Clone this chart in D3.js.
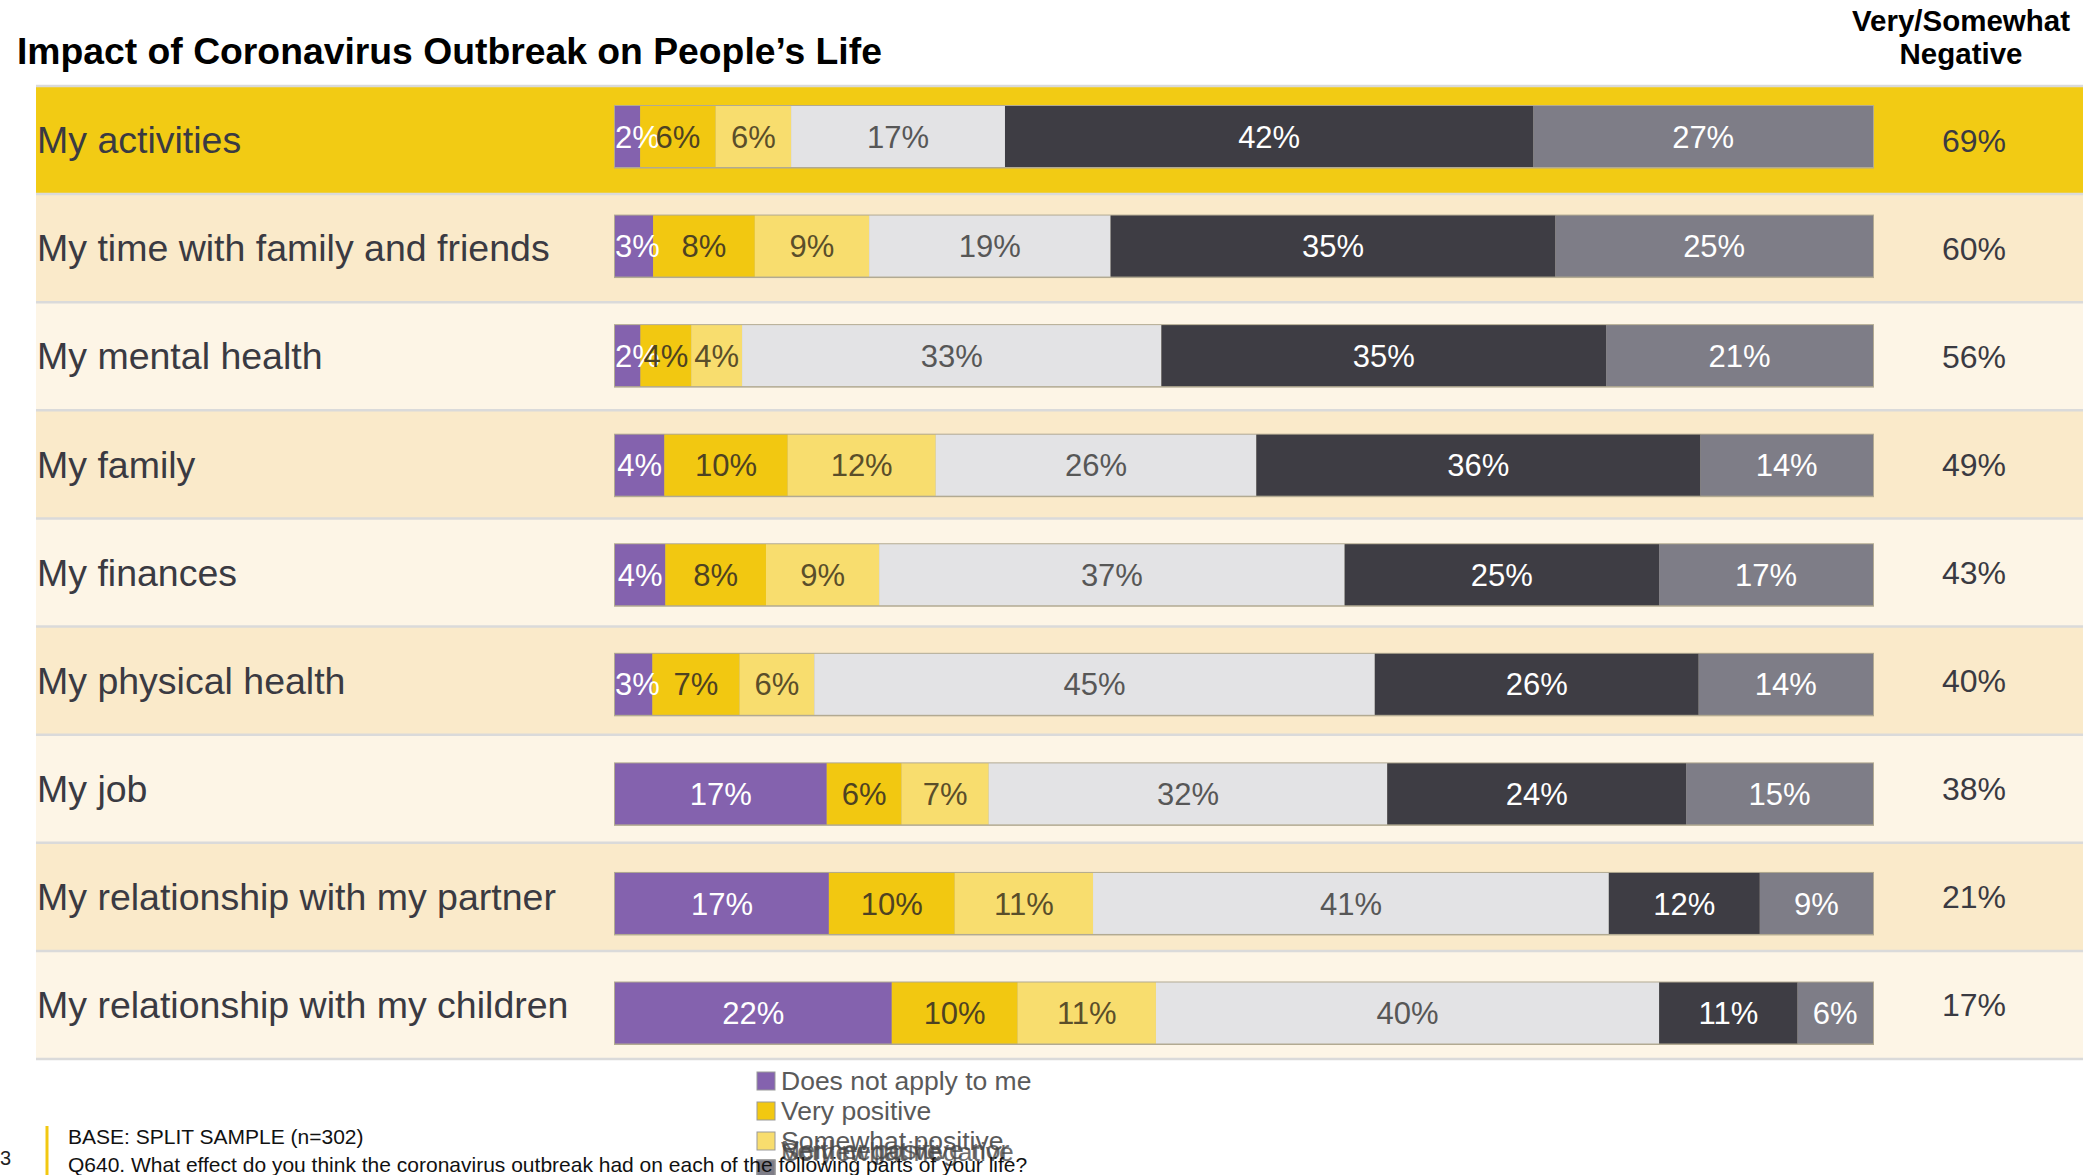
<!DOCTYPE html>
<html>
<head>
<meta charset="utf-8">
<script src="https://cdn.jsdelivr.net/npm/d3@7"></script>
<style>
  html, body { margin: 0; padding: 0; background: #ffffff; overflow: hidden; }
  svg { display: block; font-family: "Liberation Sans", Arial, sans-serif; }
</style>
</head>
<body>
<svg id="chart" width="2083" height="1175"></svg>
<script>
// ---------- data ----------
const categories = [
  "My activities",
  "My time with family and friends",
  "My mental health",
  "My family",
  "My finances",
  "My physical health",
  "My job",
  "My relationship with my partner",
  "My relationship with my children"
];
const seriesNames = [
  "Does not apply to me",
  "Very positive",
  "Somewhat positive",
  "Neither positive nor negative",
  "Very negative",
  "Somewhat negative"
];
const doesNotApply = [2, 3, 2, 4, 4, 3, 17, 17, 22];
const veryPositive = [6, 8, 4, 10, 8, 7, 6, 10, 10];
const somewhatPositive = [6, 9, 4, 12, 9, 6, 7, 11, 11];
const neitherPosNeg = [17, 19, 33, 26, 37, 45, 32, 41, 40];
const veryNegative = [42, 35, 35, 36, 25, 26, 24, 12, 11];
const somewhatNegative = [27, 25, 21, 14, 17, 14, 15, 9, 6];
const netNegative = [69, 60, 56, 49, 43, 40, 38, 21, 17];

const titleText = "Impact of Coronavirus Outbreak on People\u2019s Life";
const netHeader = ["Very/Somewhat", "Negative"];
const baseText = "BASE: SPLIT SAMPLE (n=302)";
const questionText = "Q640. What effect do you think the coronavirus outbreak had on each of the following parts of your life?";
const pageNumber = "3";

// ---------- styles ----------
const segColors = ["#8462AE", "#F2C811", "#F8DD6E", "#E3E3E5", "#3E3D44", "#7E7D87"];
const segText = ["#FFFFFF", "#4E4222", "#5A4E2A", "#575757", "#FFFFFF", "#FFFFFF"];
const bandColors = i => i === 0 ? "#F2CB14" : (i % 2 === 1 ? "#FAEACA" : "#FDF5E6");

const table = categories.map((c, i) => ({
  category: c,
  [seriesNames[0]]: doesNotApply[i],
  [seriesNames[1]]: veryPositive[i],
  [seriesNames[2]]: somewhatPositive[i],
  [seriesNames[3]]: neitherPosNeg[i],
  [seriesNames[4]]: veryNegative[i],
  [seriesNames[5]]: somewhatNegative[i],
  net: netNegative[i]
}));

const svg = d3.select("#chart");

// scales
const rowBand = d3.scaleBand().domain(categories).range([86, 1059]).padding(0);
const barCenter = d3.scalePoint().domain(categories).range([136.5, 1013]);
const barH = 61;
const x = d3.scaleLinear().domain([0, 1]).range([615, 1873]);

// ---------- title ----------
svg.append("text")
  .attr("x", 17).attr("y", 64)
  .attr("font-size", 37.3).attr("font-weight", "bold").attr("fill", "#000")
  .text(titleText);

svg.append("g").selectAll("text").data(netHeader).join("text")
  .attr("x", 1961).attr("y", (d, i) => 31 + i * 33)
  .attr("text-anchor", "middle")
  .attr("font-size", 29.5).attr("font-weight", "bold").attr("fill", "#000")
  .text(d => d);

// ---------- row bands ----------
const bands = svg.append("g");
bands.selectAll("rect").data(categories).join("rect")
  .attr("x", 36).attr("y", d => rowBand(d))
  .attr("width", 2083 - 36).attr("height", rowBand.bandwidth())
  .attr("fill", (d, i) => bandColors(i));
bands.selectAll("line").data(d3.range(categories.length + 1)).join("line")
  .attr("x1", 36).attr("x2", 2083)
  .attr("y1", i => i < categories.length ? rowBand(categories[i]) : rowBand(categories[categories.length-1]) + rowBand.bandwidth())
  .attr("y2", i => i < categories.length ? rowBand(categories[i]) : rowBand(categories[categories.length-1]) + rowBand.bandwidth())
  .attr("stroke", "#DADADA").attr("stroke-width", 2.5);

// row labels
svg.append("g").selectAll("text").data(categories).join("text")
  .attr("x", 37)
  .attr("y", d => rowBand(d) + rowBand.bandwidth() / 2)
  .attr("dy", "0.35em")
  .attr("font-size", 37.5).attr("fill", "#3A3A42")
  .text(d => d);

// ---------- stacked bars ----------
const stack = d3.stack().keys(seriesNames).offset(d3.stackOffsetExpand);
const series = stack(table);

const barsG = svg.append("g");
barsG.selectAll("rect.outline").data(categories).join("rect")
  .attr("class", "outline")
  .attr("x", x(0) - 1).attr("y", d => barCenter(d) - barH / 2 - 1)
  .attr("width", x(1) - x(0) + 2).attr("height", barH + 2.5)
  .attr("fill", "#B2AA92");

series.forEach((s, si) => {
  barsG.append("g").selectAll("rect").data(s).join("rect")
    .attr("x", d => x(d[0]))
    .attr("y", d => barCenter(d.data.category) - barH / 2)
    .attr("width", d => x(d[1]) - x(d[0]))
    .attr("height", barH)
    .attr("fill", segColors[si]);
});

const fs = 31;
series.forEach((s, si) => {
  barsG.append("g").selectAll("text").data(s).join("text")
    .attr("x", d => {
      const label = d.data[seriesNames[si]] + "%";
      const c = (x(d[0]) + x(d[1])) / 2;
      const w = label.length === 2 ? fs * 1.445 : fs * 2.0;
      return si === 0 ? Math.max(c, x(0) + w / 2) : c;
    })
    .attr("y", d => barCenter(d.data.category))
    .attr("dy", "0.36em")
    .attr("text-anchor", "middle")
    .attr("font-size", fs)
    .attr("fill", segText[si])
    .text(d => d.data[seriesNames[si]] + "%");
});

// ---------- net negative column ----------
svg.append("g").selectAll("text").data(table).join("text")
  .attr("x", 1974)
  .attr("y", d => rowBand(d.category) + rowBand.bandwidth() / 2)
  .attr("dy", "0.36em")
  .attr("text-anchor", "middle")
  .attr("font-size", 32).attr("fill", "#3A3A42")
  .text(d => d.net + "%");

// ---------- legend ----------
const legendY = [1081, 1111, 1141, 1150, 1151, 1152];
const defs = svg.append("defs");
defs.append("clipPath").attr("id", "legclip")
  .append("rect").attr("x", 740).attr("y", 1060).attr("width", 300).attr("height", 115);
defs.append("clipPath").attr("id", "legclip2")
  .append("rect").attr("x", 740).attr("y", 1060).attr("width", 276).attr("height", 115);
const legend = svg.append("g");
const legItems = legend.selectAll("g").data(seriesNames).join("g")
  .attr("clip-path", (d, i) => i < 3 ? "url(#legclip)" : "url(#legclip2)");
legItems.append("rect")
  .attr("x", 757).attr("y", (d, i) => (i < 3 ? legendY[i] - 9 : 1160))
  .attr("width", 18).attr("height", 18)
  .attr("fill", (d, i) => segColors[i])
  .attr("stroke", "#999").attr("stroke-width", 1);
legItems.append("text")
  .attr("x", 781).attr("y", (d, i) => legendY[i] + 9)
  .attr("font-size", 26.5)
  .attr("fill", (d, i) => i < 3 ? "#5A5A5A" : "#4A4A4A")
  .attr("opacity", (d, i) => i < 3 ? 1 : 0.8)
  .text(d => d);

// ---------- footer ----------
svg.append("line")
  .attr("x1", 47).attr("x2", 47).attr("y1", 1126).attr("y2", 1175)
  .attr("stroke", "#F2C811").attr("stroke-width", 3);
svg.append("text")
  .attr("x", 0).attr("y", 1165)
  .attr("font-size", 20).attr("fill", "#222")
  .text(pageNumber);
svg.append("text")
  .attr("x", 68).attr("y", 1144)
  .attr("font-size", 21).attr("fill", "#111")
  .text(baseText);
svg.append("text")
  .attr("x", 68).attr("y", 1172)
  .attr("font-size", 21).attr("fill", "#111")
  .text(questionText);
</script>
</body>
</html>
